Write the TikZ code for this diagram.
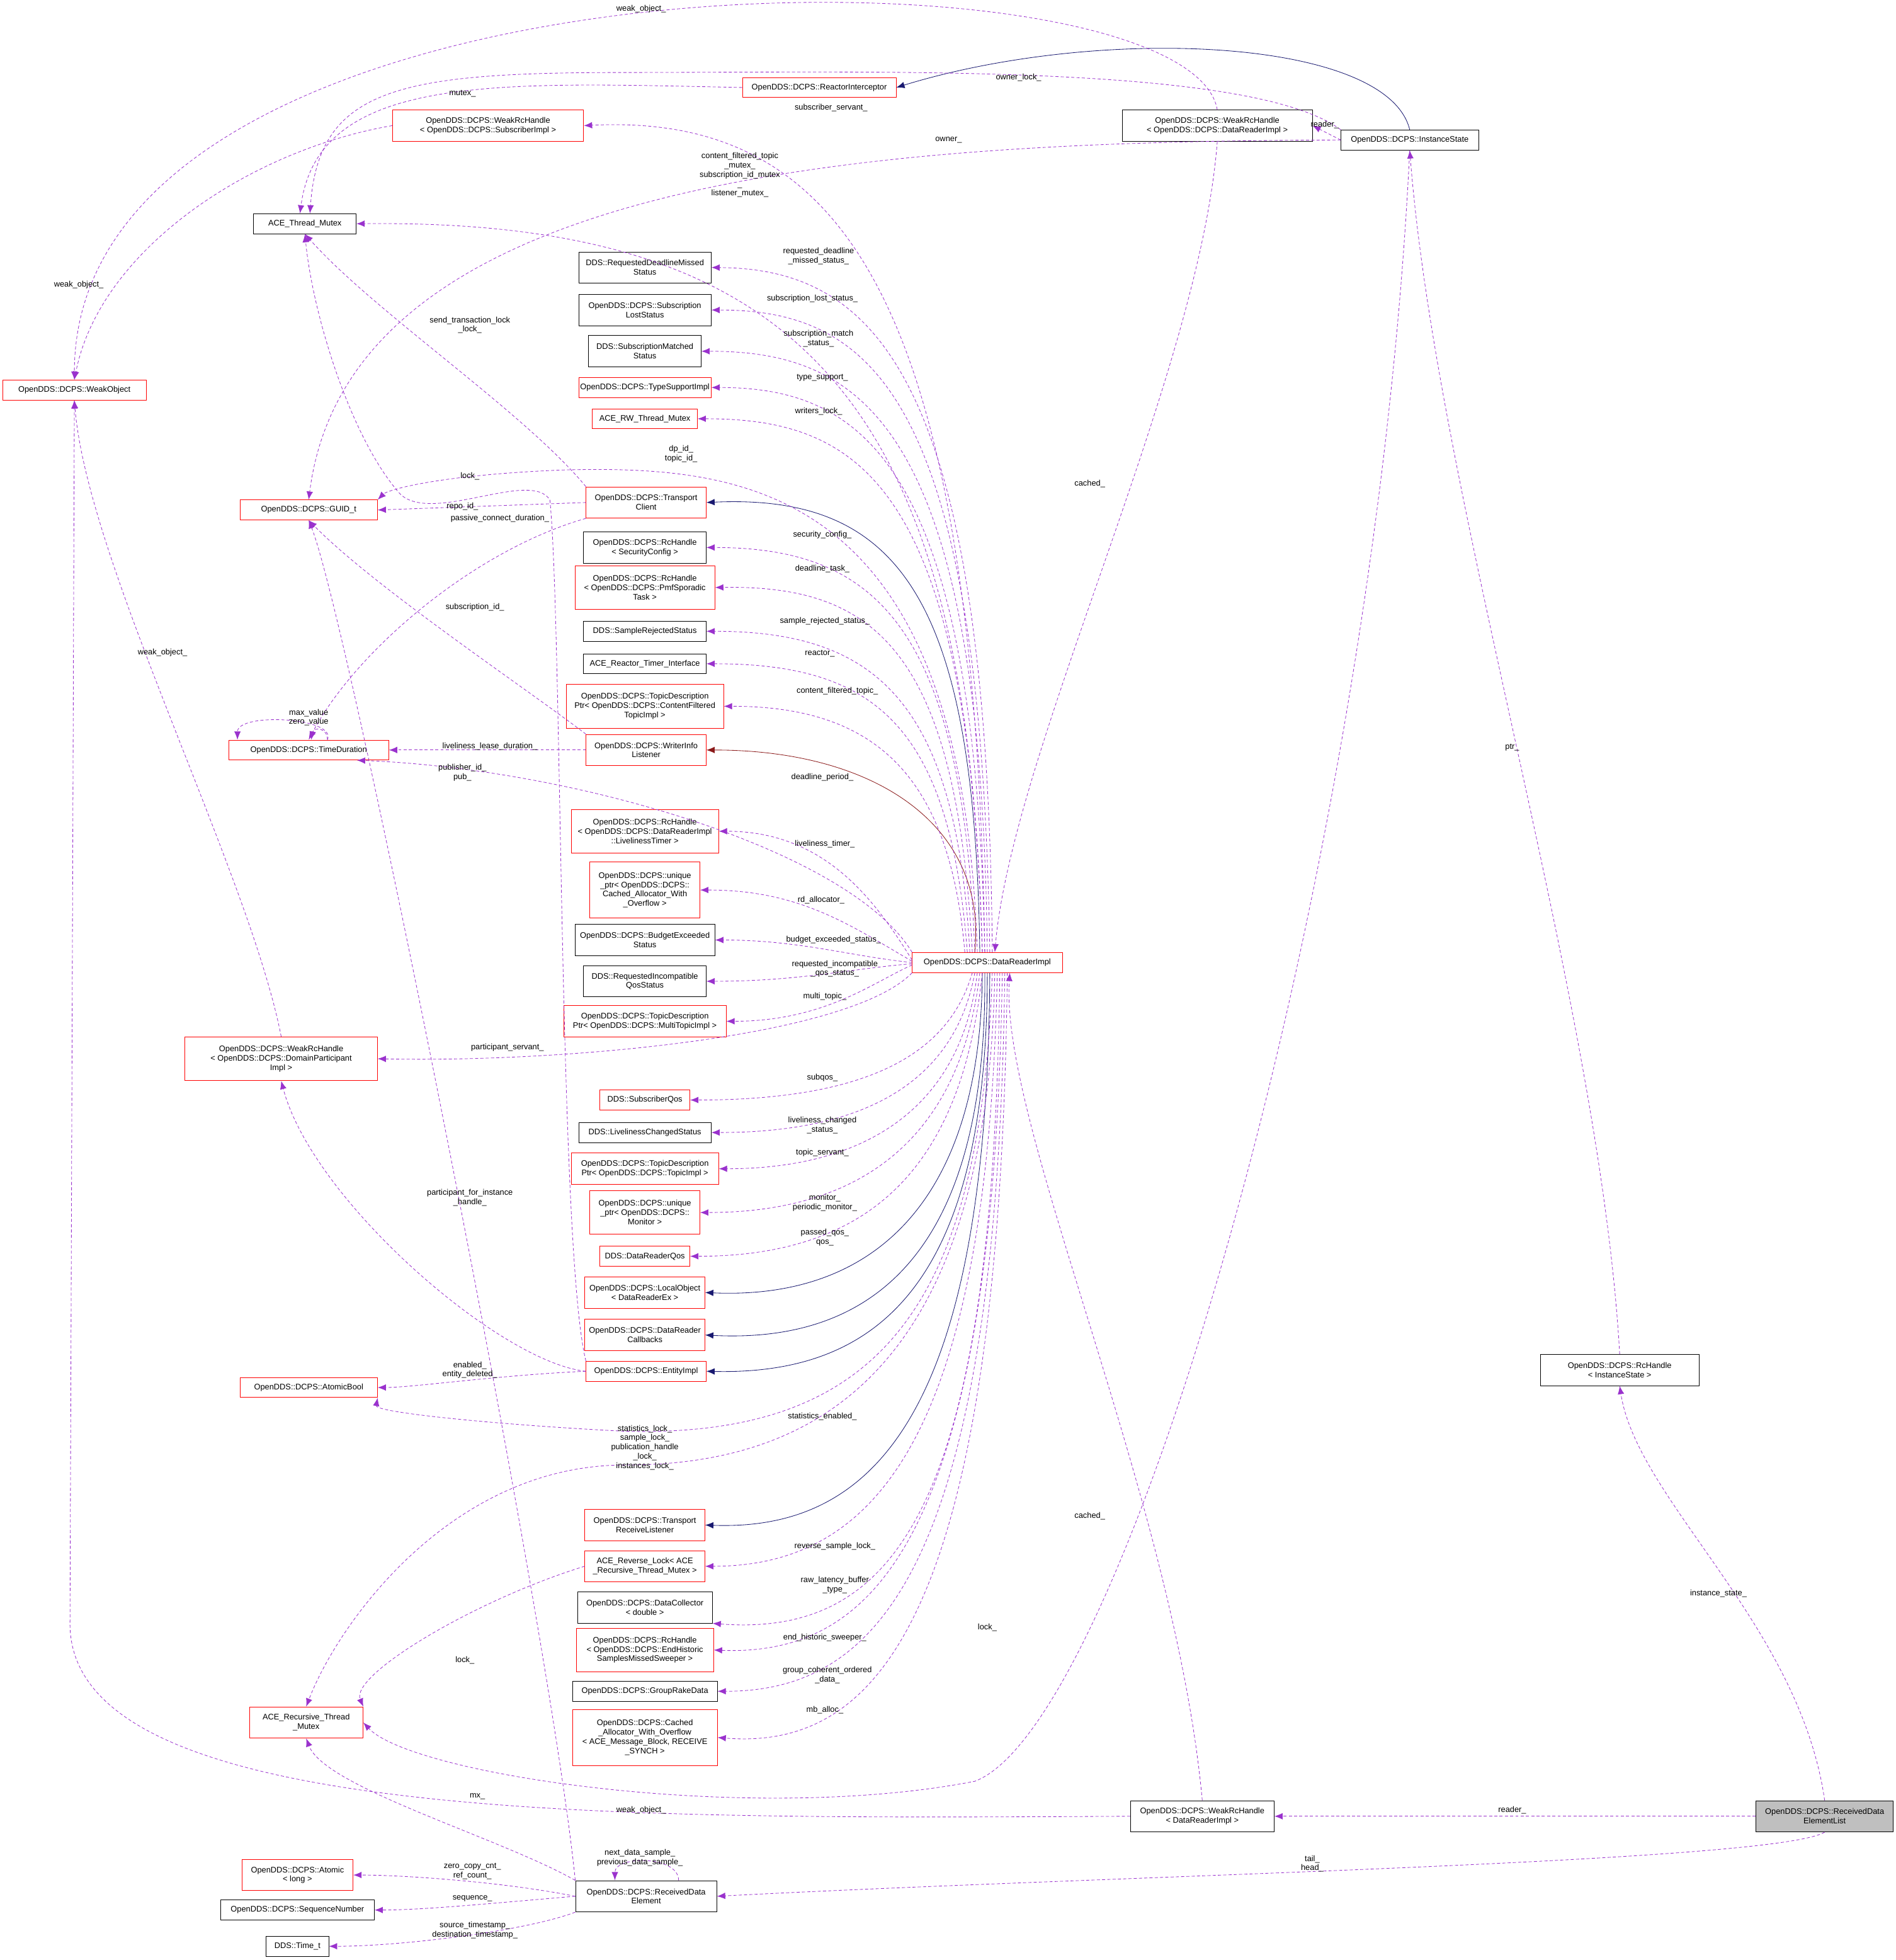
\documentclass[tikz,border=0pt]{standalone}
\usepackage{fontspec}
\setmainfont{Liberation Sans}
\usetikzlibrary{arrows.meta,positioning}
\definecolor{usecol}{RGB}{154,50,205}
\definecolor{navyc}{RGB}{25,25,112}
\definecolor{inhred}{RGB}{139,26,26}
\newcommand{\lblfont}{\fontsize{9.2}{10.6}\selectfont}
\begin{document}
\begin{tikzpicture}[
    x=0.05cm, y=-0.05cm,
    cls/.style={rectangle,draw=black,fill=white,font=\lblfont,align=center,inner sep=1pt,line width=0.6pt,minimum height=0.8cm},
    rcls/.style={cls,draw=red},
    two/.style={minimum height=1.25cm},
    three/.style={minimum height=1.75cm},
    four/.style={minimum height=2.25cm},
    use/.style={draw=usecol,line width=0.6pt,dash pattern=on 3.5pt off 2.5pt,-{Latex[length=3.3mm,width=2.6mm]}},
    inh/.style={draw=navyc,line width=0.6pt,-{Latex[length=3.3mm,width=2.6mm]}},
    lab/.style={font=\lblfont,align=center,inner sep=0pt}
]
\useasboundingbox (0,0) rectangle (1517,1568);

% Classes, left column
\node[rcls,minimum width=5.75cm] (wo) at (59.5,312) {OpenDDS::DCPS::WeakObject};
\node[cls,minimum width=4.1cm] (atm) at (244,179) {ACE\_Thread\_Mutex};
\node[rcls,minimum width=5.5cm] (guid) at (247,408) {OpenDDS::DCPS::GUID\_t};
\node[rcls,minimum width=6.4cm] (td) at (247,600) {OpenDDS::DCPS::TimeDuration};
\node[rcls,three,minimum width=7.7cm] (wrhdp) at (225,847) {OpenDDS::DCPS::WeakRcHandle\\< OpenDDS::DCPS::DomainParticipant\\Impl >};
\node[rcls,minimum width=5.5cm] (ab) at (247,1110) {OpenDDS::DCPS::AtomicBool};
\node[rcls,two,minimum width=4.55cm] (ar) at (245,1378) {ACE\_Recursive\_Thread\\\_Mutex};
\node[rcls,two,minimum width=4.45cm] (atl) at (238,1500) {OpenDDS::DCPS::Atomic\\< long >};
\node[cls,minimum width=6.15cm] (sn) at (238,1528) {OpenDDS::DCPS::SequenceNumber};
\node[cls,minimum width=2.5cm] (tt) at (238,1557) {DDS::Time\_t};

% Classes, top
\node[rcls,minimum width=6.15cm] (ri) at (655.5,70) {OpenDDS::DCPS::ReactorInterceptor};
\node[rcls,two,minimum width=7.65cm] (wrhs) at (390.5,100.5) {OpenDDS::DCPS::WeakRcHandle\\< OpenDDS::DCPS::SubscriberImpl >};
\node[cls,two,minimum width=7.6cm] (wrht) at (974,100.5) {OpenDDS::DCPS::WeakRcHandle\\< OpenDDS::DCPS::DataReaderImpl >};
\node[cls,minimum width=5.5cm] (is) at (1128,112) {OpenDDS::DCPS::InstanceState};

% Classes, middle column
\node[cls,two,minimum width=5.3cm] (rdm) at (516,214) {DDS::RequestedDeadlineMissed\\Status};
\node[cls,two,minimum width=5.3cm] (sls) at (516,248) {OpenDDS::DCPS::Subscription\\LostStatus};
\node[cls,two,minimum width=4.5cm] (sms) at (516,281) {DDS::SubscriptionMatched\\Status};
\node[rcls,minimum width=5.3cm] (tsi) at (516,310) {OpenDDS::DCPS::TypeSupportImpl};
\node[rcls,minimum width=4.2cm] (rwm) at (516,335) {ACE\_RW\_Thread\_Mutex};
\node[rcls,two,minimum width=4.8cm] (tc) at (517,402) {OpenDDS::DCPS::Transport\\Client};
\node[cls,two,minimum width=4.9cm] (sec) at (516,438) {OpenDDS::DCPS::RcHandle\\< SecurityConfig >};
\node[rcls,three,minimum width=5.6cm] (pmf) at (516,470) {OpenDDS::DCPS::RcHandle\\< OpenDDS::DCPS::PmfSporadic\\Task >};
\node[cls,minimum width=4.9cm] (srs) at (516,505) {DDS::SampleRejectedStatus};
\node[cls,minimum width=4.9cm] (rti) at (516,531) {ACE\_Reactor\_Timer\_Interface};
\node[rcls,three,minimum width=6.3cm] (cft) at (516,565) {OpenDDS::DCPS::TopicDescription\\Ptr< OpenDDS::DCPS::ContentFiltered\\TopicImpl >};
\node[rcls,two,minimum width=4.8cm] (wil) at (517,600) {OpenDDS::DCPS::WriterInfo\\Listener};
\node[rcls,three,minimum width=5.9cm] (lt) at (516,665) {OpenDDS::DCPS::RcHandle\\< OpenDDS::DCPS::DataReaderImpl\\::LivelinessTimer >};
\node[rcls,four,minimum width=4.4cm] (upca) at (516,712) {OpenDDS::DCPS::unique\\\_ptr< OpenDDS::DCPS::\\Cached\_Allocator\_With\\\_Overflow >};
\node[cls,two,minimum width=5.6cm] (bes) at (516,752) {OpenDDS::DCPS::BudgetExceeded\\Status};
\node[cls,two,minimum width=4.9cm] (riq) at (516,785) {DDS::RequestedIncompatible\\QosStatus};
\node[rcls,two,minimum width=6.5cm] (mt) at (516,817) {OpenDDS::DCPS::TopicDescription\\Ptr< OpenDDS::DCPS::MultiTopicImpl >};
\node[rcls,minimum width=3.6cm] (sq) at (516,880) {DDS::SubscriberQos};
\node[cls,minimum width=5.3cm] (lcs) at (516,906) {DDS::LivelinessChangedStatus};
\node[rcls,two,minimum width=5.9cm] (tpi) at (516,935) {OpenDDS::DCPS::TopicDescription\\Ptr< OpenDDS::DCPS::TopicImpl >};
\node[rcls,three,minimum width=4.4cm] (mon) at (516,970) {OpenDDS::DCPS::unique\\\_ptr< OpenDDS::DCPS::\\Monitor >};
\node[rcls,minimum width=3.6cm] (drq) at (516,1005) {DDS::DataReaderQos};
\node[rcls,two,minimum width=4.8cm] (lo) at (516,1034) {OpenDDS::DCPS::LocalObject\\< DataReaderEx >};
\node[rcls,two,minimum width=4.8cm] (drc) at (516,1068) {OpenDDS::DCPS::DataReader\\Callbacks};
\node[rcls,minimum width=4.8cm] (ei) at (517,1097) {OpenDDS::DCPS::EntityImpl};
\node[rcls,two,minimum width=4.8cm] (trl) at (516,1220) {OpenDDS::DCPS::Transport\\ReceiveListener};
\node[rcls,two,minimum width=4.8cm] (rl) at (516,1253) {ACE\_Reverse\_Lock< ACE\\\_Recursive\_Thread\_Mutex >};
\node[cls,two,minimum width=5.4cm] (dc) at (516,1286) {OpenDDS::DCPS::DataCollector\\< double >};
\node[rcls,three,minimum width=5.5cm] (eh) at (516,1320) {OpenDDS::DCPS::RcHandle\\< OpenDDS::DCPS::EndHistoric\\SamplesMissedSweeper >};
\node[cls,minimum width=5.8cm] (grd) at (516,1353) {OpenDDS::DCPS::GroupRakeData};
\node[rcls,four,minimum width=5.8cm] (cao) at (516,1390) {OpenDDS::DCPS::Cached\\\_Allocator\_With\_Overflow\\< ACE\_Message\_Block, RECEIVE\\\_SYNCH >};
\node[cls,two,minimum width=5.65cm] (rde) at (517,1517) {OpenDDS::DCPS::ReceivedData\\Element};

% Classes, right
\node[rcls,minimum width=6cm] (dri) at (790,770) {OpenDDS::DCPS::DataReaderImpl};
\node[cls,two,minimum width=6.35cm] (rcis) at (1296,1096) {OpenDDS::DCPS::RcHandle\\< InstanceState >};
\node[cls,two,minimum width=5.75cm] (wrhb) at (962,1453) {OpenDDS::DCPS::WeakRcHandle\\< DataReaderImpl >};
\node[cls,two,fill=black!25,minimum width=5.5cm] (rdel) at (1460,1453) {OpenDDS::DCPS::ReceivedData\\ElementList};

% Inheritance
\draw[inh] (is.north) .. controls (1110,30) and (880,20) .. (ri.east);
\draw[inh] ([xshift=-0.3cm]dri.north) .. controls (780,480) and (720,395) .. (tc.east);
\draw[inh,draw=inhred] ([xshift=-0.5cm]dri.north) .. controls (790,660) and (700,600) .. (wil.east);
\draw[inh] ([xshift=-0.2cm]dri.south) .. controls (785,960) and (700,1040) .. (lo.east);
\draw[inh] ([xshift=-0.1cm]dri.south) .. controls (790,1000) and (700,1075) .. (drc.east);
\draw[inh] (dri.south) .. controls (790,1030) and (700,1100) .. (ei.east);
\draw[inh] ([xshift=0.1cm]dri.south) .. controls (790,1130) and (700,1225) .. (trl.east);

% DataReaderImpl members above
\draw[use] ([xshift=-0.1cm]dri.north) .. controls (780,250) and (680,90) .. (wrhs.east);
\draw[use] ([xshift=-0.2cm]dri.north) .. controls (775,330) and (650,175) .. (atm.east);
\draw[use] ([xshift=0.2cm]dri.north) .. controls (790,300) and (700,215) .. (rdm.east);
\draw[use] ([xshift=0.1cm]dri.north) .. controls (785,320) and (700,248) .. (sls.east);
\draw[use] (dri.north) .. controls (785,340) and (690,281) .. (sms.east);
\draw[use] ([xshift=-0.1cm]dri.north) .. controls (780,370) and (690,310) .. (tsi.east);
\draw[use] ([xshift=-0.2cm]dri.north) .. controls (775,390) and (690,335) .. (rwm.east);
\draw[use] ([xshift=-0.4cm]dri.north) .. controls (770,390) and (600,372) .. (450,376) .. controls (350,380) and (310,392) .. (guid.north east);
\draw[use] ([xshift=-0.5cm]dri.north) .. controls (770,500) and (700,438) .. (sec.east);
\draw[use] ([xshift=-0.6cm]dri.north) .. controls (765,520) and (700,468) .. (pmf.east);
\draw[use] ([xshift=-0.7cm]dri.north) .. controls (765,560) and (700,505) .. (srs.east);
\draw[use] ([xshift=-0.8cm]dri.north) .. controls (760,580) and (700,531) .. (rti.east);
\draw[use] ([xshift=-0.9cm]dri.north) .. controls (760,620) and (700,565) .. (cft.east);
\draw[use] (dri.north west) .. controls (680,680) and (460,615) .. (td.-12);
\draw[use] ([yshift=0.1cm]dri.west) .. controls (700,720) and (660,665) .. (lt.east);
\draw[use] ([yshift=0.05cm]dri.west) .. controls (680,740) and (640,712) .. (upca.east);
\draw[use] (dri.west) .. controls (680,765) and (640,752) .. (bes.east);
\draw[use] ([yshift=-0.05cm]dri.west) .. controls (680,775) and (640,785) .. (riq.east);
\draw[use] ([yshift=-0.1cm]dri.west) .. controls (700,785) and (660,817) .. (mt.east);
\draw[use] (dri.south west) .. controls (680,830) and (450,850) .. (wrhdp.east);

% DataReaderImpl members below
\draw[use] ([xshift=-0.6cm]dri.south) .. controls (760,840) and (700,880) .. (sq.east);
\draw[use] ([xshift=-0.5cm]dri.south) .. controls (765,860) and (700,906) .. (lcs.east);
\draw[use] ([xshift=-0.4cm]dri.south) .. controls (770,880) and (700,935) .. (tpi.east);
\draw[use] ([xshift=-0.3cm]dri.south) .. controls (770,900) and (700,970) .. (mon.east);
\draw[use] ([xshift=-0.2cm]dri.south) .. controls (770,930) and (700,1005) .. (drq.east);
\draw[use] ([xshift=0.2cm]dri.south) .. controls (785,1050) and (700,1150) .. (500,1145) .. controls (400,1140) and (300,1130) .. (ab.south east);
\draw[use] ([xshift=0.3cm]dri.south) .. controls (790,1100) and (650,1172) .. (500,1172) .. controls (360,1172) and (270,1300) .. (ar.north);
\draw[use] ([xshift=0.4cm]dri.south) .. controls (790,1150) and (700,1253) .. (rl.east);
\draw[use] ([xshift=0.5cm]dri.south) .. controls (795,1200) and (720,1310) .. (dc.south east);
\draw[use] ([xshift=0.6cm]dri.south) .. controls (795,1230) and (700,1325) .. (eh.east);
\draw[use] ([xshift=0.7cm]dri.south) .. controls (798,1260) and (700,1353) .. (grd.east);
\draw[use] ([xshift=0.8cm]dri.south) .. controls (800,1300) and (700,1400) .. (cao.east);

% InstanceState and handles
\draw[use] (ri.west) .. controls (400,66) and (255,58) .. ([xshift=-0.2cm]atm.north);
\draw[use] (is.north west) .. controls (1000,50) and (700,58) .. (500,58) .. controls (320,58) and (255,70) .. ([xshift=0.2cm]atm.north);
\draw[use] (is.west) .. controls (700,113) and (280,140) .. (guid.north);
\draw[use] (is.west) -- (wrht.east);
\draw[use] (wrht.north) .. controls (950,-50) and (60,-50) .. (wo.north);
\draw[use] (wrht.south) .. controls (960,300) and (810,600) .. ([xshift=0.3cm]dri.north);
\draw[use] (wrhs.west) .. controls (200,120) and (80,200) .. (wo.north);
\draw[use] (wrhdp.north) .. controls (200,700) and (70,450) .. (wo.south);
\draw[use] (wrhb.west) .. controls (500,1455) and (58,1460) .. (56,1300) -- (wo.south);
\draw[use] (wrhb.north) .. controls (940,1200) and (800,900) .. ([xshift=0.9cm]dri.south);
\draw[use] (is.south) .. controls (1100,700) and (900,1380) .. (780,1425) .. controls (600,1460) and (330,1420) .. (ar.east);
\draw[use] (rcis.north) .. controls (1280,800) and (1150,400) .. (is.south);
\draw[use] (rdel.north) .. controls (1440,1300) and (1310,1200) .. (rcis.south);
\draw[use] (rdel.west) -- (wrhb.east);
\draw[use] (rdel.south) .. controls (1420,1490) and (900,1500) .. (rde.east);

% TransportClient, WriterInfoListener, EntityImpl
\draw[use] (tc.north west) .. controls (420,330) and (300,250) .. (atm.south);
\draw[use] (tc.west) -- (guid.east);
\draw[use] (tc.south west) .. controls (380,440) and (285,520) .. (td.north);
\draw[use] (wil.north west) .. controls (420,550) and (300,470) .. (guid.south);
\draw[use] (wil.west) -- (td.east);
\draw[use] ([xshift=0.75cm]td.north) .. controls +(8,-18) and +(0,-22) .. ([xshift=-2.85cm]td.north);
\draw[use] ([xshift=0.75cm]td.north) .. controls +(0,-10) and +(2,-10) .. ([xshift=0.1cm]td.north);
\draw[use] (ei.north west) .. controls (447,1000) and (450,500) .. (440,400) .. controls (425,375) and (345,420) .. (320,395) .. controls (280,350) and (250,250) .. (atm.south);
\draw[use] (ei.west) .. controls (400,1090) and (250,960) .. (wrhdp.south);
\draw[use] (ei.west) .. controls (400,1100) and (330,1110) .. (ab.east);

% ReceivedDataElement
\draw[use] (rde.north west) .. controls (440,1300) and (280,500) .. (guid.south);
\draw[use] (rl.west) .. controls (380,1280) and (280,1340) .. (ar.north east);
\draw[use] (rde.north west) .. controls (400,1470) and (260,1430) .. (ar.south);
\draw[use] (rde.west) .. controls (400,1505) and (320,1500) .. (atl.east);
\draw[use] (rde.west) .. controls (400,1522) and (340,1528) .. (sn.east);
\draw[use] (rde.south west) .. controls (420,1545) and (320,1557) .. (tt.east);
\draw[use] ([xshift=1.3cm]rde.north) .. controls +(0,-20) and +(0,-20) .. ([xshift=-1.25cm]rde.north);

% Labels
\node[lab] (l1) at (665,86) {subscriber\_servant\_};
\node[lab] (l2) at (592,140) {content\_filtered\_topic\\\_mutex\_\\subscription\_id\_mutex\\\_\\listener\_mutex\_};
\node[lab] (l3) at (655,205) {requested\_deadline\\\_missed\_status\_};
\node[lab] (l4) at (650,239) {subscription\_lost\_status\_};
\node[lab] (l5) at (655,271) {subscription\_match\\\_status\_};
\node[lab] (l6) at (658,302) {type\_support\_};
\node[lab] (l7) at (655,329) {writers\_lock\_};
\node[lab] (l8) at (545,363) {dp\_id\_\\topic\_id\_};
\node[lab] (l9) at (376,381) {lock\_};
\node[lab] (l10) at (370,405) {repo\_id\_};
\node[lab] (l11) at (400,415) {passive\_connect\_duration\_};
\node[lab] (l12) at (658,428) {security\_config\_};
\node[lab] (l13) at (658,455) {deadline\_task\_};
\node[lab] (l14) at (380,486) {subscription\_id\_};
\node[lab] (l15) at (660,497) {sample\_rejected\_status\_};
\node[lab] (l16) at (656,523) {reactor\_};
\node[lab] (l17) at (670,553) {content\_filtered\_topic\_};
\node[lab] (l18) at (247,574) {max\_value\\zero\_value};
\node[lab] (l19) at (392,597) {liveliness\_lease\_duration\_};
\node[lab] (l20) at (370,618) {publisher\_id\_\\pub\_};
\node[lab] (l21) at (658,622) {deadline\_period\_};
\node[lab] (l22) at (660,675) {liveliness\_timer\_};
\node[lab] (l23) at (657,720) {rd\_allocator\_};
\node[lab] (l24) at (667,752) {budget\_exceeded\_status\_};
\node[lab] (l25) at (668,775) {requested\_incompatible\\\_qos\_status\_};
\node[lab] (l26) at (660,797) {multi\_topic\_};
\node[lab] (l27) at (406,838) {participant\_servant\_};
\node[lab] (l28) at (658,862) {subqos\_};
\node[lab] (l29) at (658,900) {liveliness\_changed\\\_status\_};
\node[lab] (l30) at (658,922) {topic\_servant\_};
\node[lab] (l31) at (660,962) {monitor\_\\periodic\_monitor\_};
\node[lab] (l32) at (660,990) {passed\_qos\_\\qos\_};
\node[lab] (l33) at (376,958) {participant\_for\_instance\\\_handle\_};
\node[lab] (l34) at (376,1096) {enabled\_\\entity\_deleted\_};
\node[lab] (l35) at (658,1133) {statistics\_enabled\_};
\node[lab] (l36) at (516,1158) {statistics\_lock\_\\sample\_lock\_\\publication\_handle\\\_lock\_\\instances\_lock\_};
\node[lab] (l37) at (668,1237) {reverse\_sample\_lock\_};
\node[lab] (l38) at (668,1268) {raw\_latency\_buffer\\\_type\_};
\node[lab] (l39) at (660,1310) {end\_historic\_sweeper\_};
\node[lab] (l40) at (662,1340) {group\_coherent\_ordered\\\_data\_};
\node[lab] (l41) at (660,1368) {mb\_alloc\_};
\node[lab] (l42) at (372,1328) {lock\_};
\node[lab] (l43) at (382,1437) {mx\_};
\node[lab] (l44) at (513,1448) {weak\_object\_};
\node[lab] (l45) at (512,1486) {next\_data\_sample\_\\previous\_data\_sample\_};
\node[lab] (l46) at (378,1497) {zero\_copy\_cnt\_\\ref\_count\_};
\node[lab] (l47) at (378,1519) {sequence\_};
\node[lab] (l48) at (380,1544) {source\_timestamp\_\\destination\_timestamp\_};
\node[lab] (l49) at (1050,1491) {tail\_\\head\_};
\node[lab] (l50) at (1210,1448) {reader\_};
\node[lab] (l51) at (1375,1275) {instance\_state\_};
\node[lab] (l52) at (1210,598) {ptr\_};
\node[lab] (l53) at (872,387) {cached\_};
\node[lab] (l54) at (872,1213) {cached\_};
\node[lab] (l55) at (790,1302) {lock\_};
\node[lab] (l56) at (815,62) {owner\_lock\_};
\node[lab] (l57) at (759,112) {owner\_};
\node[lab] (l58) at (1060,100) {reader\_};
\node[lab] (l59) at (370,75) {mutex\_};
\node[lab] (l60) at (513,7) {weak\_object\_};
\node[lab] (l61) at (63,228) {weak\_object\_};
\node[lab] (l62) at (130,522) {weak\_object\_};
\node[lab] (l63) at (376,260) {send\_transaction\_lock\\\_lock\_};

\end{tikzpicture}
\end{document}
